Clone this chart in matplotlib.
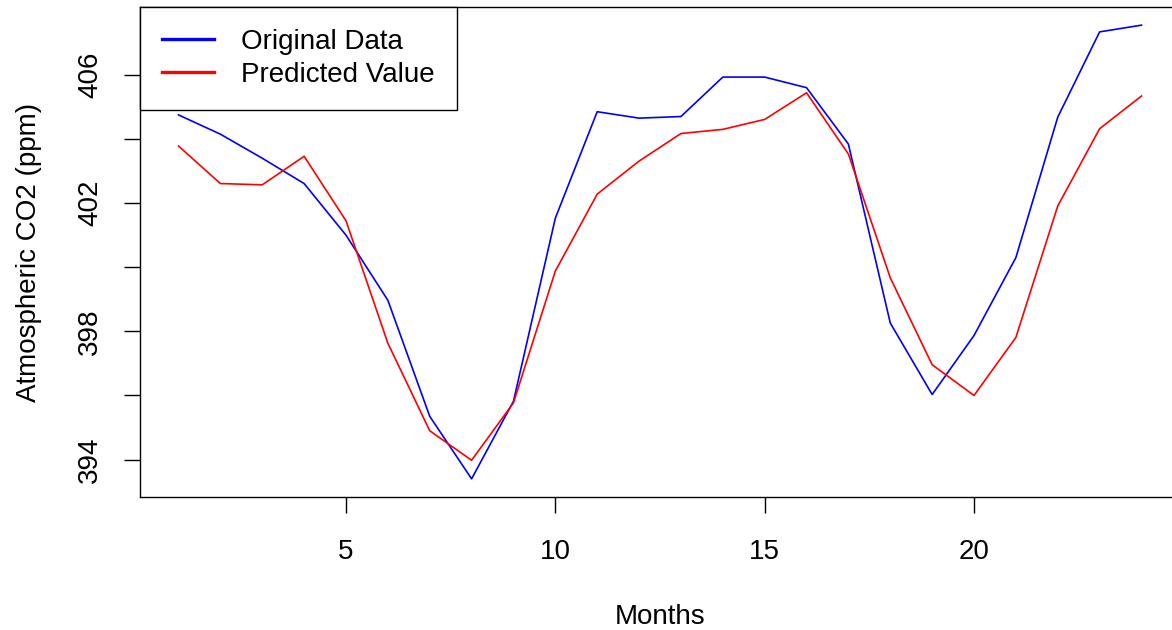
import matplotlib
matplotlib.use('Agg')
import matplotlib.pyplot as plt
from matplotlib.lines import Line2D

plt.rcParams['font.family'] = ['Liberation Sans', 'DejaVu Sans']

months = list(range(1, 25))
original = [404.75, 404.15, 403.40, 402.61, 401.00, 398.97, 395.35, 393.40,
            395.82, 401.53, 404.85, 404.65, 404.70, 405.93, 405.93, 405.60,
            403.84, 398.26, 396.03, 397.87, 400.30, 404.68, 407.34, 407.55]
predicted = [403.78, 402.61, 402.57, 403.46, 401.45, 397.63, 394.90, 393.98,
             395.77, 399.88, 402.28, 403.31, 404.17, 404.30, 404.61, 405.44,
             403.53, 399.67, 396.96, 396.00, 397.81, 401.91, 404.32, 405.34]
xticks = [5, 10, 15, 20]
yticks = [394, 396, 398, 400, 402, 404, 406]
ytick_labels = ['394', '', '398', '', '402', '', '406']

FS = 20
W, H = 1172, 630
fig = plt.figure(figsize=(W / 100, H / 100), dpi=100)
ax = fig.add_axes([140 / W, (H - 497) / H, 1040 / W, 490 / H])

ax.plot(months, original, color='#0000ff', linewidth=1.2)
ax.plot(months, predicted, color='#ff0000', linewidth=1.2)

# R style 4% padding
lo = min(min(original), min(predicted))
hi = max(max(original), max(predicted))
pad = (hi - lo) * 0.04
ax.set_ylim(lo - pad, hi + pad)
ax.set_xlim(1 - 23 * 0.04, 24 + 23 * 0.04)

ax.set_xticks(xticks)
ax.set_yticks(yticks)
ax.set_yticklabels(ytick_labels, rotation=90, va='center')
ax.tick_params(axis='both', direction='out', length=11.5, width=1, labelsize=FS)
ax.tick_params(axis='y', pad=15)
ax.tick_params(axis='x', pad=19)
for s in ax.spines.values():
    s.set_linewidth(1)

ax.set_xlabel('Months', fontsize=FS)
ax.set_ylabel('Atmospheric CO2 (ppm)', fontsize=FS)
ax.xaxis.set_label_coords(0.5, -0.218)
ax.yaxis.set_label_coords(-0.094, 0.5)

handles = [Line2D([], [], color='#0000ff', linewidth=2.4),
           Line2D([], [], color='#ff0000', linewidth=2.4)]
leg = ax.legend(handles, ['Original Data', 'Predicted Value'], loc='upper left',
                fontsize=FS, frameon=True, fancybox=False, edgecolor='black',
                framealpha=1, borderaxespad=0, handlelength=1.9, handletextpad=0.97,
                borderpad=0.78, labelspacing=0.27)
leg.get_frame().set_linewidth(1)

fig.savefig('out.png', dpi=100, facecolor='white')
